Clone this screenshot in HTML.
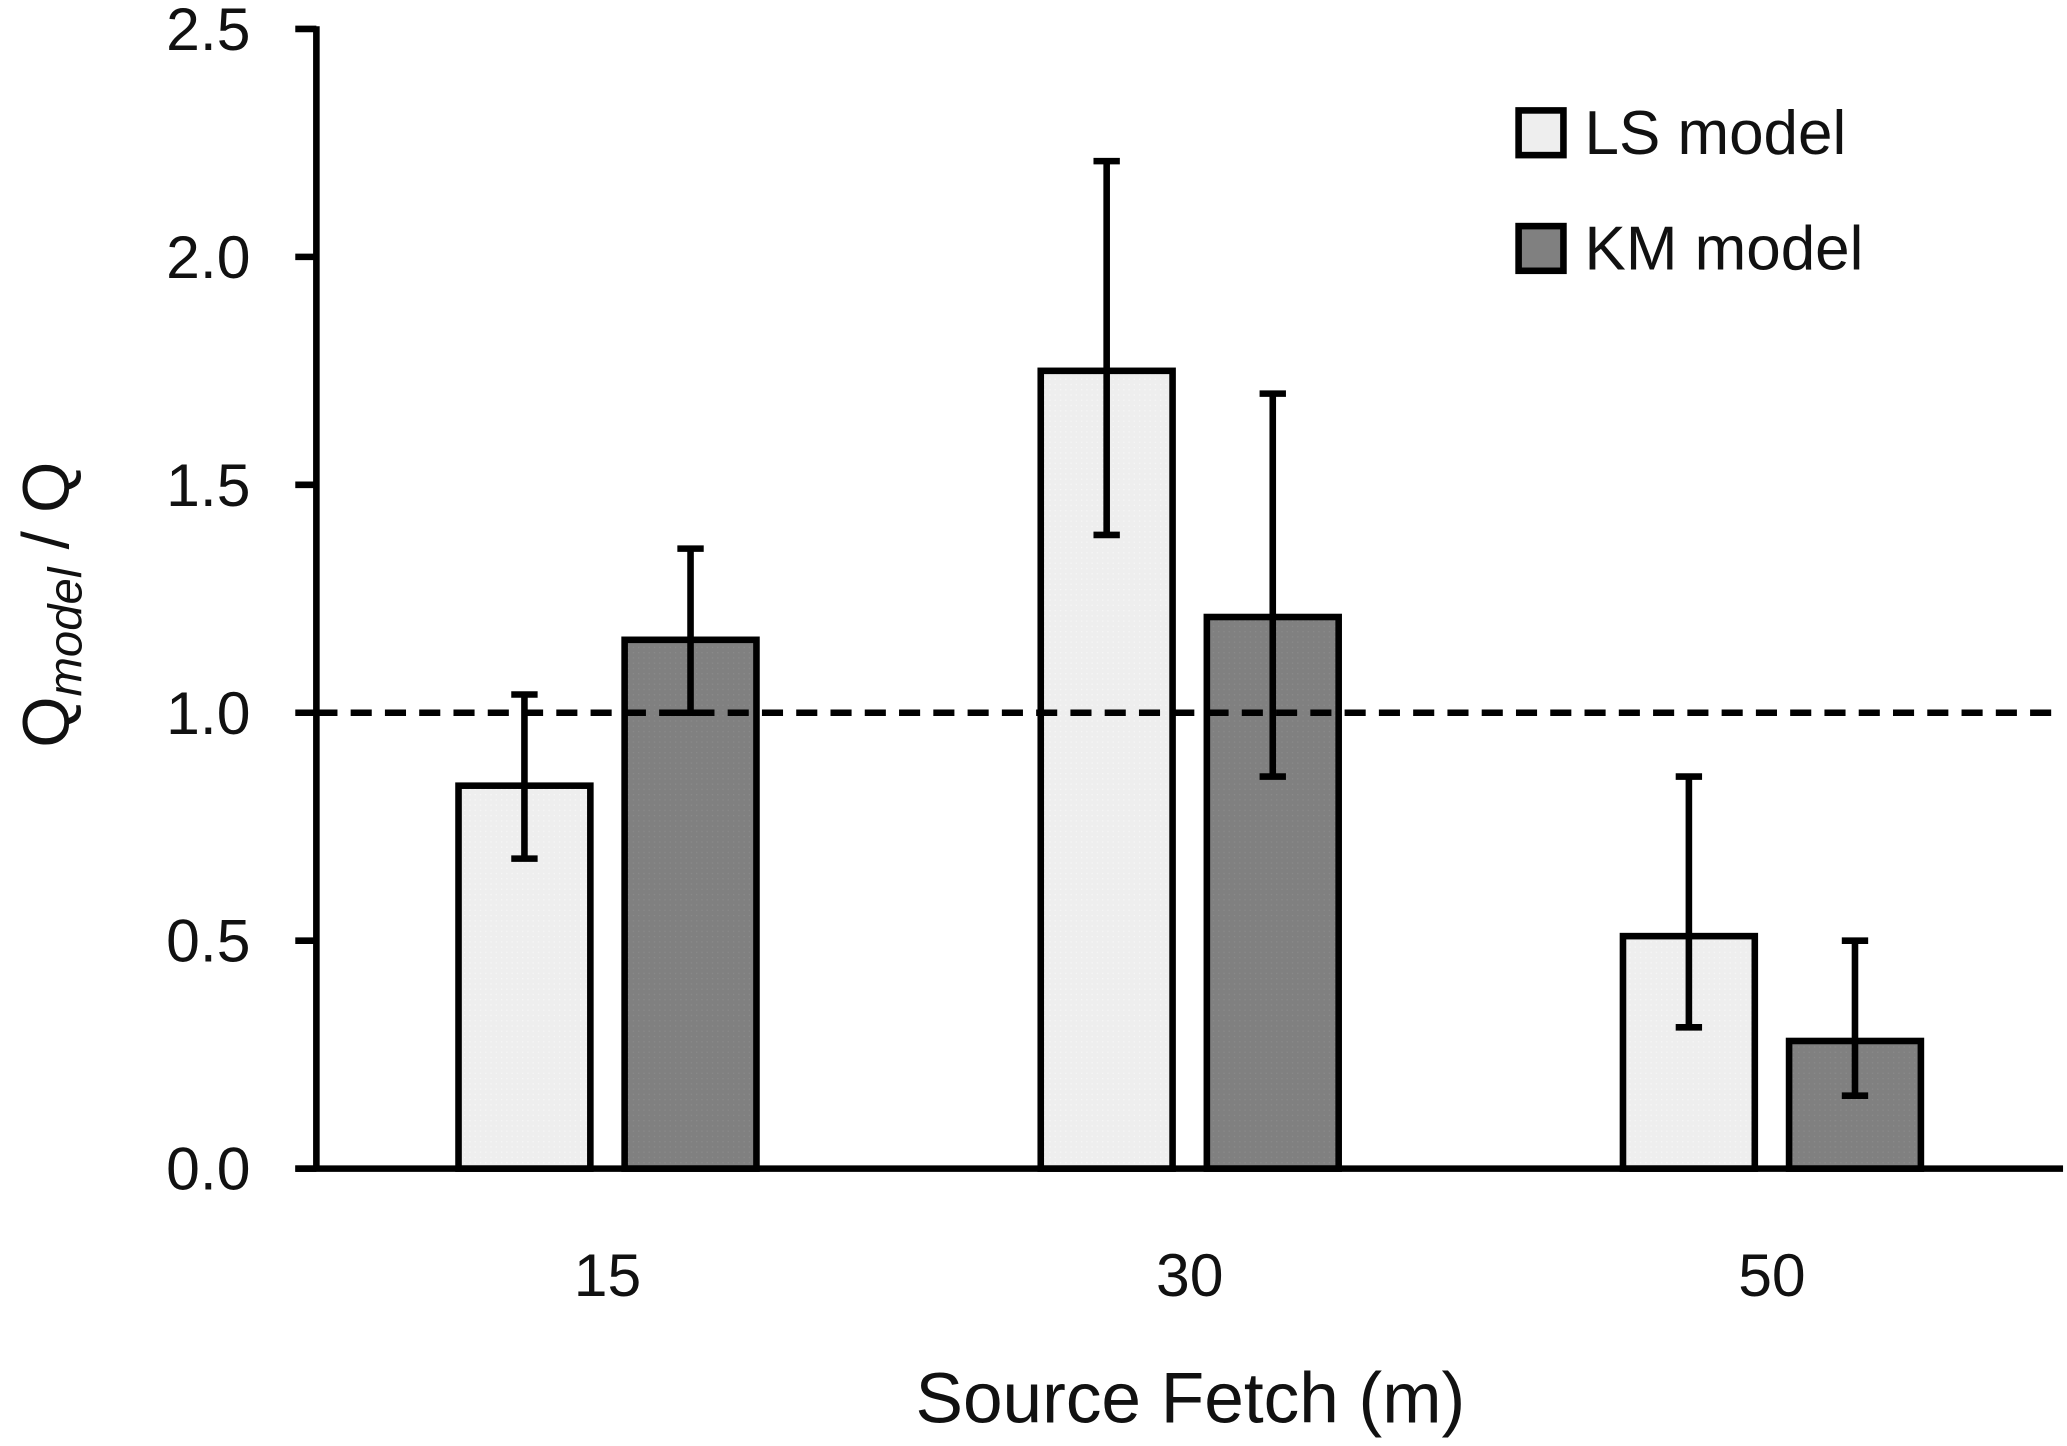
<!DOCTYPE html>
<html><head><meta charset="utf-8"><style>
html,body{margin:0;padding:0;background:#fff;}
svg{display:block;font-family:"Liberation Sans",sans-serif;}
</style></head><body>
<svg id="chart" width="2067" height="1446" viewBox="0 0 1568 1100" preserveAspectRatio="none" xmlns="http://www.w3.org/2000/svg">
<defs>
<pattern id="lsfill" width="4" height="4" patternUnits="userSpaceOnUse"><rect width="4" height="4" fill="#eeeeee"/><rect width="1" height="1" fill="#f6f6f6"/></pattern>
<pattern id="kmfill" width="4" height="4" patternUnits="userSpaceOnUse"><rect width="4" height="4" fill="#808080"/><rect width="1" height="1" fill="#8a8a8a"/></pattern>
</defs>
<g id="plot"></g>
<text transform="translate(52,460) rotate(-90)" text-anchor="middle" font-size="50" fill="#111">Q<tspan font-style="italic" font-size="36" dy="10">model</tspan><tspan dy="-10"> / Q</tspan></text>
<text x="903" y="1082" text-anchor="middle" font-size="54" fill="#111">Source Fetch (m)</text>
<g>
<rect x="1152" y="84" width="34" height="34" fill="#eeeeee" stroke="#000" stroke-width="5"/>
<text x="1202" y="117" font-size="47" fill="#111">LS model</text>
<rect x="1152" y="172" width="34" height="34" fill="#808080" stroke="#000" stroke-width="5"/>
<text x="1202" y="205" font-size="47" fill="#111">KM model</text>
</g>
</svg>
<script>
const categories = ["15", "30", "50"];
const lsValues = [0.84, 1.75, 0.51];
const lsLow = [0.68, 1.39, 0.31];
const lsHigh = [1.04, 2.21, 0.86];
const kmValues = [1.16, 1.21, 0.28];
const kmLow = [1.00, 0.86, 0.16];
const kmHigh = [1.36, 1.70, 0.50];
const yTicks = [0, 0.5, 1.0, 1.5, 2.0, 2.5];
const yTickLabels = ["0.0", "0.5", "1.0", "1.5", "2.0", "2.5"];
const referenceValue = 1.0;

const NS = "http://www.w3.org/2000/svg";
const g = document.getElementById('plot');
const X0 = 240, X1 = 1565, Y0 = 889, Y1 = 22, YMAX = 2.5;
const y = v => Y0 - (v / YMAX) * (Y0 - Y1);
const band = (X1 - X0) / categories.length;
const cx = i => X0 + band * (i + 0.5);
const BW = 100, OFF = 63;
function mk(tag, attrs) { const e = document.createElementNS(NS, tag); for (const k in attrs) e.setAttribute(k, attrs[k]); g.appendChild(e); return e; }

function bar(x, v, lo, hi, fill, name) {
  const r = mk('rect', {x: x - BW / 2, y: y(v), width: BW, height: Y0 - y(v), fill: fill, stroke: '#000', 'stroke-width': 5});
  
  
  const e = mk('path', {d: `M${x},${y(hi)}V${y(lo)}M${x - 10},${y(hi)}H${x + 10}M${x - 10},${y(lo)}H${x + 10}`, stroke: '#000', 'stroke-width': 5, fill: 'none'});
  
  
}
categories.forEach((c, i) => {
  bar(cx(i) - OFF, lsValues[i], lsLow[i], lsHigh[i], 'url(#lsfill)', 'ls-bar-' + c);
  bar(cx(i) + OFF, kmValues[i], kmLow[i], kmHigh[i], 'url(#kmfill)', 'km-bar-' + c);
  const t = mk('text', {x: cx(i), y: 986, 'text-anchor': 'middle', 'font-size': 46, fill: '#111'});
  t.textContent = c;
  
  
});
const ref = mk('line', {x1: X0, x2: X1, y1: y(referenceValue), y2: y(referenceValue), stroke: '#000', 'stroke-width': 5, 'stroke-dasharray': '16,10'});


const ya = mk('line', {x1: X0, x2: X0, y1: Y1 - 2, y2: Y0, stroke: '#000', 'stroke-width': 5});


const xa = mk('line', {x1: X0 - 16, x2: X1, y1: Y0, y2: Y0, stroke: '#000', 'stroke-width': 5});


yTicks.forEach((v, i) => {
  const tk = mk('line', {x1: X0 - 16, x2: X0, y1: y(v), y2: y(v), stroke: '#000', 'stroke-width': 5});
  
  
  const t = mk('text', {x: 190, y: y(v) + 16, 'text-anchor': 'end', 'font-size': 46, fill: '#111'});
  t.textContent = yTickLabels[i];
  
  
});
</script>
</body></html>
